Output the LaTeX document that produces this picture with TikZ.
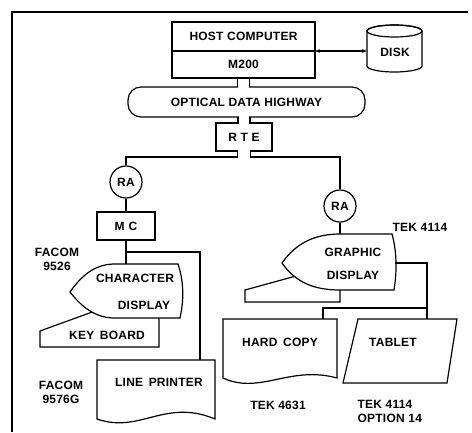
\documentclass[tikz,border=0pt]{standalone}
\usepackage{fontspec}
\setmainfont{Liberation Sans}[LetterSpace=2]
\usetikzlibrary{arrows.meta,positioning}

\begin{document}
\begin{tikzpicture}[
  x=1pt, y=-1pt,
  line width=1.2pt,
  font=\fontsize{12}{14}\selectfont\bfseries,
  box/.style={draw, outer sep=0pt, inner sep=0pt, fill=white},
  adapter/.style={draw, circle, minimum size=32pt, inner sep=0pt, fill=white},
  unit/.style={draw, fill=white},
  lbl/.style={inner sep=0pt, align=center},
  arrow/.style={{Stealth[length=5pt]}-{Stealth[length=5pt]}}
]
  \useasboundingbox (0,0) rectangle (472,432);
  % frame
  \draw (12,432) -- (12,12) -- (468,12);

  % host and disk
  \node[box, minimum width=143pt, minimum height=29pt] (host) at (243.5,36.5) {HOST COMPUTER};
  \node[box, minimum width=143pt, minimum height=27pt, below=0pt of host] (m200) {M200};
  \node[inner sep=0pt, outer sep=0pt, minimum width=55pt, minimum height=47pt] (disk) at (394.5,48.5) {};
  \draw[unit] (367,31) -- (367,66) arc[start angle=180, end angle=0, x radius=27.5, y radius=6]
    -- (422,31) arc[start angle=0, end angle=-180, x radius=27.5, y radius=6] -- cycle;
  \draw (394.5,31) ellipse [x radius=27.5, y radius=6];
  \node[lbl] (disktxt) at (395,52) {DISK};
  \draw[arrow] (host.south east) -- (host.south east -| disk.west);

  % highway and RTE
  \node[box, rounded corners=13pt, minimum width=237pt, minimum height=30pt] (highway) at (246.5,102) {OPTICAL DATA HIGHWAY};
  \node[box, minimum width=56pt, minimum height=28pt] (rte) at (244,137) {R T E};
  \fill[white] ([xshift=-5.4pt]m200.south |- highway.north) ++(0,-1.5) rectangle ++(10.8,3);
  \draw ([xshift=-6pt]m200.south) -- ([xshift=-6pt]m200.south |- highway.north);
  \draw ([xshift=6pt]m200.south) -- ([xshift=6pt]m200.south |- highway.north);
  \fill[white] ([xshift=-5.4pt]rte.north |- highway.south) ++(0,-1.5) rectangle ++(10.8,3);
  \fill[white] ([xshift=-5.4pt]rte.north) ++(0,-1.5) rectangle ++(10.8,3);
  \draw ([xshift=-6pt]rte.north) -- ([xshift=-6pt]rte.north |- highway.south);
  \draw ([xshift=6pt]rte.north) -- ([xshift=6pt]rte.north |- highway.south);

  % remote adapters
  \node[adapter] (raL) at (126,182) {RA};
  \node[adapter] (raR) at (340,206) {RA};
  \fill[white] ([xshift=-5.9pt]rte.south) ++(0,-1.5) rectangle ++(11.8,3);
  \draw ([xshift=-6.5pt]rte.south) -- ++(0,6) -| (raL.north);
  \draw ([xshift=6.5pt]rte.south) -- ++(0,6) -| (raR.north);
  \node[box, minimum width=58pt, minimum height=28pt] (mc) at (126,226) {M\,\,C};
  \draw (raL) -- (mc);

  % character display side
  \draw[unit] (40,347) -- (40,331) -- (95,311) -- (159,311) -- (159,347) -- cycle;
  \draw[unit] (70,292) .. controls (84,272) and (98,264) .. (115,264) -- (178,264)
    .. controls (184,282) and (184,300) .. (180,318) -- (115,318)
    .. controls (98,318) and (84,310) .. (70,292) -- cycle;
  \node[lbl] (cdtxt1) at (135,278) {CHARACTER};
  \node[lbl] (cdtxt2) at (144,305) {DISPLAY};
  \node[lbl] (kbtxt) at (107,335) {KEY\, BOARD};
  \node[lbl] (fac1) at (57,259) {FACOM\\9526};
  \coordinate (cdtop) at (126,264);
  \draw (mc) -- (cdtop);

  \draw[unit] (97,360) -- (215,360) -- (215,419)
    .. controls (165,398) and (140,434) .. (97,419) -- cycle;
  \node[lbl] (lptxt) at (159,382) {LINE\, PRINTER};
  \node[lbl] (fac2) at (61,392) {FACOM\\9576G};
  \coordinate (lptop) at (200,360);
  \draw (mc.south) ++(0,12) -| (lptop);

  % graphic display side
  \draw[unit] (245,302) -- (245,290) -- (296,276) -- (340,276) -- (340,302) -- cycle;
  \draw[unit] (282,263) .. controls (296,243) and (315,234) .. (340,234) -- (392,234)
    .. controls (397,252) and (397,272) .. (394,290) -- (340,290)
    .. controls (315,290) and (296,283) .. (282,263) -- cycle;
  \node[lbl] (gdtxt1) at (353,252) {GRAPHIC};
  \node[lbl] (gdtxt2) at (353,275) {DISPLAY};
  \node[lbl] (tek1) at (420,227) {TEK 4114};
  \coordinate (gdtop) at (340,234);
  \draw (raR) -- (gdtop);

  \draw[unit] (223,319) -- (337,319) -- (337,378)
    .. controls (290,365) and (260,395) .. (223,378) -- cycle;
  \node[lbl] (hctxt) at (280,342) {HARD\, COPY};
  \node[lbl] (tek2) at (278,405) {TEK 4631};
  \draw[unit] (358,319) -- (457,319) -- (447,383) -- (343,383) -- cycle;
  \node[lbl] (tbtxt) at (393,342) {TABLET};
  \node[lbl, align=left, anchor=west] (tek3) at (357,411) {TEK 4114\\OPTION 14};

  \coordinate (gdright) at (395,263);
  \coordinate (tbtop) at (427,319);
  \coordinate (hctop) at (323,319);
  \draw (gdright) -| (tbtop);
  \draw (hctop) -- ++(0,-11) -| (tbtop);
\end{tikzpicture}
\end{document}
